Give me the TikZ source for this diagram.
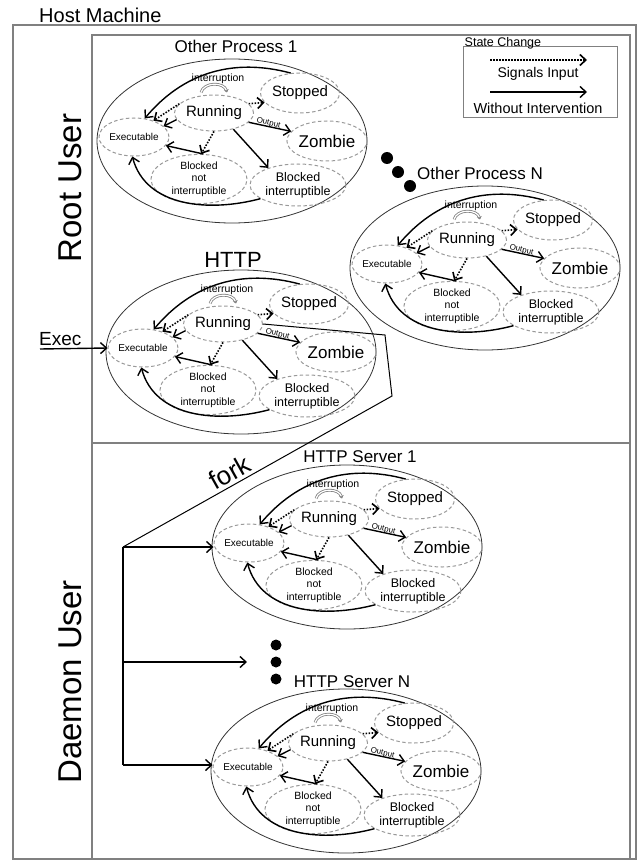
\documentclass[tikz,border=0pt]{standalone}
\usepackage{fontspec}
\setmainfont{Liberation Sans}
\usepackage{tikz}
\usetikzlibrary{arrows.meta,positioning,shapes.geometric}

\newcommand{\setfs}[2]{\fontsize{#1}{#2}\selectfont}

\tikzset{
  hostframe/.style={draw=gray, line width=1.3pt},
  procbox/.style={ellipse, draw=black!80, line width=0.8pt, minimum width=270pt, minimum height=164pt, inner sep=0pt},
  procstate/.style={ellipse, draw=gray!80, line width=1pt, dash pattern=on 3.5pt off 2.5pt, inner sep=0pt, align=center},
  proctitle/.style={inner sep=0pt, font=\setfs{17}{20}},
  flow/.style={line width=1.4pt, -{Straight Barb[length=6pt,width=11pt]}},
  sig/.style={flow, line width=1.6pt, dash pattern=on 1.5pt off 1.5pt},
  loopy/.style={draw=gray, double=white, double distance=1.2pt, line width=0.8pt, -{Stealth[length=3pt,width=5pt]}},
  process/.pic={
    \node[procbox] (-box) at (0,0) {};
    \node[procstate, minimum width=64pt, minimum height=38pt, font=\setfs{10}{12}] (-exe) at (-98,4) {Executable};
    \node[procstate, minimum width=66pt, minimum height=36pt, font=\setfs{15}{17}] (-run) at (-18,28) {Running};
    \node[procstate, minimum width=68pt, minimum height=40pt, font=\setfs{15}{17}] (-stop) at (68,48) {Stopped};
    \node[procstate, minimum width=68pt, minimum height=40pt, font=\setfs{17}{20}] (-zomb) at (95,0) {Zombie};
    \node[procstate, minimum width=96pt, minimum height=44pt, font=\setfs{10.5}{12.5}] (-bnot) at (-33,-38) {Blocked\\not\\interruptible};
    \node[procstate, minimum width=96pt, minimum height=42pt, font=\setfs{12.5}{14}] (-bint) at (66,-44) {Blocked\\interruptible};
    \node[font=\setfs{10.5}{12}, inner sep=0pt] (-intr) at (-14,62) {interruption};
    \draw[loopy] ([xshift=-13pt,yshift=2pt]-run.north) to[out=75,in=105,looseness=1.1] ([xshift=13pt,yshift=2pt]-run.north);
    \draw[flow] (-stop.115) to[out=165,in=50] (-exe.60);
    \draw[flow] (-run.190) -- (-exe.20);
    \draw[sig] (-run.165) -- (-exe.40);
    \draw[sig] (-run.15) -- (-stop.195);
    \draw[flow] (-run.-15) -- node[sloped, above=-2pt, pos=0.45, inner sep=1pt, font=\setfs{8}{9}] (-out) {Output} (-zomb.165);
    \draw[sig] (-run.south) -- (-bnot.85);
    \draw[flow] (-run.-40) -- (-bint.150);
    \draw[flow] (-bnot.80) -- (-exe.-15);
    \draw[flow] (-bint.200) to[out=195,in=-75] (-exe.-95);
  },
}

\begin{document}
\begin{tikzpicture}[x=1pt,y=1pt]
\useasboundingbox (0,0) rectangle (643,-861);
% frames
\draw[hostframe] (13,-25) rectangle (636,-859);
\draw[hostframe] (92,-35) rectangle (630,-859);
\draw[hostframe] (92,-443) -- (630,-443);
\node[font=\setfs{20}{24}, anchor=west, inner sep=0pt] (hostlbl) at (39,-15) {Host Machine};
\node[rotate=90, font=\setfs{33}{36}] (rootlbl) at (70,-188) {Root User};
\node[rotate=90, font=\setfs{33}{36}] (daemonlbl) at (70,-682) {Daemon User};

% legend
\node[draw=gray, line width=1pt, minimum width=154pt, minimum height=71pt, inner sep=0pt] (legend) at (540,-82.5) {};
\node[anchor=base west, inner sep=0pt, font=\setfs{12.5}{14}, xshift=2pt] (legtitle) at (legend.north west) {State Change};
\coordinate (sigA) at (490,-60);
\coordinate (sigB) at (587,-60);
\coordinate (flowA) at (490,-92);
\coordinate (flowB) at (587,-92);
\draw[sig] (sigA) -- (sigB);
\draw[flow] (flowA) -- (flowB);
\node[font=\setfs{14}{16}] (sigtxt) at (538,-74) {Signals Input};
\node[font=\setfs{14.5}{16}] (flowtxt) at (538,-108) {Without Intervention};

% processes
\pic (p1) at (232,-141) {process};
\pic (pN) at (485,-268) {process};
\pic (http) at (241,-352) {process};
\pic (s1) at (347,-547) {process};
\pic (sN) at (346,-771) {process};
\node[proctitle, above=6pt of p1-box, xshift=4pt] (p1-title) {Other Process 1};
\node[proctitle, above=6pt of pN-box, xshift=-5pt] (pN-title) {Other Process N};
\node[proctitle, font=\setfs{22}{26}, above=2pt of http-box, xshift=-8pt] (http-title) {HTTP};
\node[proctitle, above=2pt of s1-box, xshift=13pt] (s1-title) {HTTP Server 1};
\node[proctitle, above=1pt of sN-box, xshift=6pt] (sN-title) {HTTP Server N};
\foreach \dx/\dy in {387/158, 398/172, 410/186} \fill (\dx,-\dy) circle (6);
\foreach \dy in {645, 662, 679} \fill (276,-\dy) circle (5.5);

% exec and fork
\coordinate (execin) at (40,-349);
\draw[flow] (execin) -- node[above, pos=0.3, inner sep=2pt, font=\setfs{19}{22}] (execlbl) {Exec} (http-exe.west);
\coordinate (forkpt) at (123,-547);
\coordinate (forkmid) at (123,-662);
\coordinate (forkbot) at (123,-765);
\coordinate (dotsin) at (247,-662);
\coordinate (callA) at (392,-396);
\coordinate (callB) at (385,-335);
\draw[line width=1.3pt] (forkpt) -- (forkbot);
\draw[flow] (forkpt) -- (forkpt -| s1-exe.west);
\draw[flow] (forkmid) -- (dotsin);
\draw[flow] (forkbot) -- (forkbot -| sN-exe.west);
\draw[line width=1pt] (forkpt) -- node[sloped, above, pos=0.42, inner sep=3pt, font=\setfs{26}{30}] (forklbl) {fork} (callA) -- (callB) -- (http-run.east);
\end{tikzpicture}
\end{document}
